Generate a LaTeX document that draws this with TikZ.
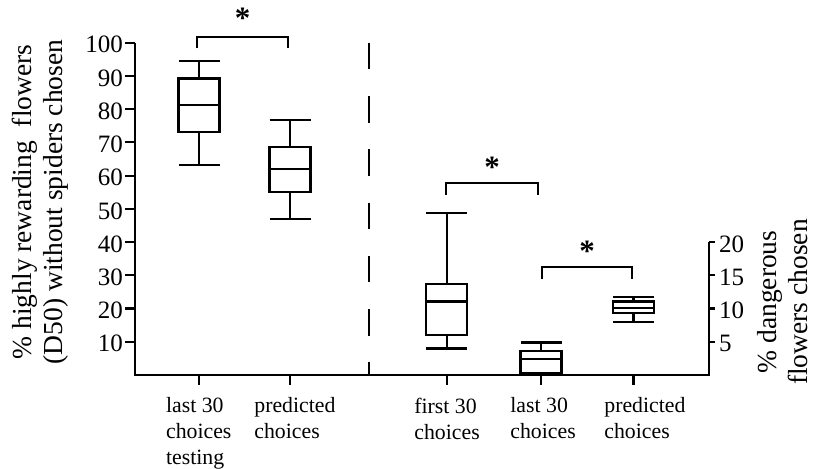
\documentclass[tikz,border=0pt]{standalone}
\usepackage{fontspec}
\setmainfont{Liberation Serif}
\usepackage{tikz}
\usetikzlibrary{calc, positioning}

\begin{document}
\begin{tikzpicture}[x=1pt, y=1pt, line width=2.2pt,
    ticklab/.style={font=\fontsize{25}{28}\selectfont, inner sep=0pt},
    grouplab/.style={font=\fontsize{21.8}{26}\selectfont, align=left, anchor=north west, inner sep=0pt},
    axtitle/.style={font=\fontsize{27.5}{31}\selectfont, align=center, rotate=90, inner sep=0pt},
    signif/.style={font=\bfseries\fontsize{31}{34}\selectfont, anchor=base, inner sep=0pt}]

    \useasboundingbox (0,0) rectangle (815,469);

    % =================================================================
    % 1. TIÊU ĐỀ CÁC TRỤC
    % =================================================================
    \node[axtitle] (titleL) at (40,267) {\% highly rewarding\ \ flowers\\(D50) without spiders chosen};
    \node[axtitle] (titleR) at (783,167) {\% dangerous\\flowers chosen};

    \begin{scope}[shift={(135,94)}, y=3.323pt]

    % =================================================================
    % 2. HỆ TRỤC: trục trái (0-100), trục phải (0-20)
    % =================================================================
    \draw (0,100) -- (0,0) -- (574,0) -- (574,40);
    \foreach \v in {10,20,...,100} {
        \draw (-10,\v) -- (0,\v);
        \node[ticklab, anchor=east] (yl\v) at (-11,\v-0.6) {\v};
    }
    \foreach \v in {5,10,15,20} {
        \draw (574,2*\v) -- (580,2*\v);
        \node[ticklab, anchor=west] (yr\v) at (583,2*\v-0.6) {\v};
    }

    % vạch chia trên trục hoành
    \foreach \c in {64,155,311.7,406,498.5}
        \draw (\c,0) -- (\c,-3);

    % đường nét đứt ngăn cách hai phần
    \draw[dash pattern=on 26.6pt off 26.7pt] (234,100) -- (234,0);

    % =================================================================
    % 3. CÁC HỘP: tâm / râu dưới / Q1 / trung vị / Q3 / râu trên
    % =================================================================
    \foreach \c/\wl/\ql/\md/\qh/\wh in {64/63.2/73.1/81.2/89.2/94.6,
                                        155/46.9/55/61.9/68.7/76.7,
                                        311.7/8/12/22.1/27.4/48.7,
                                        406/0/0.5/4.7/7.2/9.8,
                                        498.5/16/18.6/20.1/22.1/23.4} {
        \draw (\c-20.5,\wl) -- (\c+20.5,\wl);
        \draw (\c-20.5,\wh) -- (\c+20.5,\wh);
        \draw (\c,\wl) -- (\c,\ql);
        \draw (\c,\qh) -- (\c,\wh);
        \draw (\c-20.5,\ql) rectangle (\c+20.5,\qh);
        \draw (\c-20.5,\md) -- (\c+20.5,\md);
    }

    % =================================================================
    % 4. DẤU SAO (khác biệt có ý nghĩa)
    % =================================================================
    \draw (61.7,98.3) -- (61.7,101.6) -- (153.3,101.6) -- (153.3,98.3);
    \node[signif] (star1) at (107.5,104.4) {*};
    \draw (310.7,54.2) -- (310.7,57.7) -- (402.7,57.7) -- (402.7,54.2);
    \node[signif] (star2) at (357,59.3) {*};
    \draw (406.7,28.8) -- (406.7,32.6) -- (497.3,32.6) -- (497.3,28.8);
    \node[signif] (star3) at (452,34.2) {*};

    % =================================================================
    % 5. NHÃN CÁC NHÓM
    % =================================================================
    \node[grouplab] (grp1) at (30,-6.5) {last 30\\choices\\testing};
    \node[grouplab] (grp2) at (118.3,-6.5) {predicted\\choices};
    \node[grouplab] (grp3) at (278.3,-6.5) {first 30\\choices};
    \node[grouplab] (grp4) at (374.3,-6.5) {last 30\\choices};
    \node[grouplab] (grp5) at (468.3,-6.5) {predicted\\choices};

    \end{scope}

\end{tikzpicture}
\end{document}
